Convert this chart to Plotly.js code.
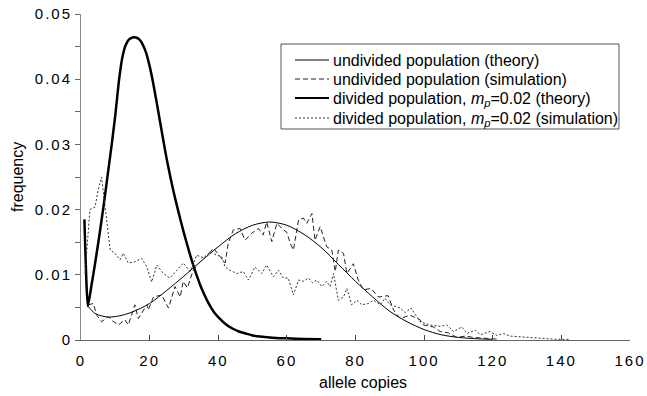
<!DOCTYPE html>
<html>
<head>
<meta charset="utf-8">
<script src="https://cdn.plot.ly/plotly-3.0.1.min.js"></script>
<style>
body{margin:0;padding:0;background:#fff;}
.xtick text,.ytick text{letter-spacing:2px;}
</style>
</head>
<body>
<div id="chart" style="width:647px;height:396px;"></div>
<script>
// undivided population (theory)
const undivTheoryX = [2,4,6,8,10,12,15,20,25,30,35,40,45,50,55,60,65,70,75,80,85,90,95,100,105,110,115,120];
const undivTheoryY = [0.0052,0.0041,0.0037,0.0035,0.0036,0.0038,0.0043,0.0056,0.0076,0.0098,0.0121,0.0143,0.0163,0.0176,0.0181,0.0176,0.0162,0.0142,0.0116,0.0090,0.0066,0.0044,0.0028,0.0016,0.0008,0.0004,0.0002,0.0001];

// undivided population (simulation)
const undivSimX = [2.1,3.6,4.6,6.0,8.0,9.0,10.9,12.8,13.8,15.7,16.7,19.2,19.6,21.1,23.5,25.5,27.4,28.9,29.8,31.0,32.7,34.7,36.6,38.6,40.5,42.0,42.9,44.4,46.4,47.8,49.8,51.7,53.1,54.1,55.6,57.1,59.0,60.0,61.0,61.9,63.4,64.8,65.8,67.3,68.2,69.7,71.6,73.1,74.1,75.0,76.5,77.5,79.4,80.8,82.3,84.5,86.7,89.5,91.1,93.0,95.9,98.8,99.8,102.7,104.7,107.0,109.5,112.0,114.4,117.0,119.2,122.0];
const undivSimY = [0.0054,0.0056,0.0038,0.0028,0.0036,0.0030,0.0023,0.0031,0.0023,0.0054,0.0033,0.0054,0.0046,0.0066,0.0069,0.0049,0.0082,0.0066,0.0090,0.0080,0.0107,0.0120,0.0128,0.0141,0.0128,0.0118,0.0148,0.0169,0.0171,0.0153,0.0164,0.0171,0.0161,0.0181,0.0151,0.0179,0.0169,0.0165,0.0148,0.0138,0.0184,0.0187,0.0179,0.0194,0.0153,0.0174,0.0143,0.0138,0.0105,0.0138,0.0133,0.0102,0.0117,0.0092,0.0077,0.0079,0.0066,0.0068,0.0046,0.0033,0.0038,0.0031,0.0023,0.0020,0.0013,0.0011,0.0004,0.0006,0.0004,0.0003,0.0002,0.0001];

// divided population, mp=0.02 (theory)
const divTheoryX = [1,2,3,4,5,6,7,8,9,10,11,12,13,14,15,16,17,18,19,20,21,22,23,24,25,26,27,28,29,30,31,32,33,34,35,36,37,38,39,40,42,44,46,48,50,55,60,65,70];
const divTheoryY = [0.0185,0.0052,0.0082,0.0114,0.0148,0.0184,0.0222,0.0262,0.0302,0.0345,0.0395,0.0432,0.0452,0.0461,0.0464,0.0464,0.0461,0.0453,0.0440,0.0420,0.0395,0.0366,0.0336,0.0306,0.0277,0.0251,0.0227,0.0205,0.0184,0.0164,0.0145,0.0127,0.0110,0.0095,0.0081,0.0069,0.0058,0.0049,0.0041,0.0035,0.0025,0.0018,0.0013,0.0010,0.0007,0.0004,0.00025,0.00015,0.0001];

// divided population, mp=0.02 (simulation)
const divSimX = [1.2,2.6,4.1,5.0,6.0,7.0,8.5,9.9,11.4,12.3,13.8,15.7,17.7,19.2,20.6,22.1,24.0,25.9,27.9,29.8,31.8,33.7,35.7,37.6,39.6,41.0,42.0,43.4,45.4,47.3,48.8,50.7,52.7,54.1,56.1,57.5,59.0,60.4,61.9,63.4,64.8,66.3,67.5,68.7,70.2,71.6,72.6,73.6,75.0,76.5,77.5,78.9,80.4,81.8,83.8,85.2,87.2,88.6,90.1,91.5,93.0,94.5,96.2,98.8,101.7,104.7,106.6,108.6,111.0,112.5,114.9,116.4,119.2,121.2,123.1,125.0,128.0,130.9,134.8,138.7,142.6];
const divSimY = [0.0102,0.0200,0.0204,0.0230,0.0250,0.0204,0.0138,0.0133,0.0123,0.0133,0.0118,0.0120,0.0125,0.0112,0.0089,0.0115,0.0102,0.0095,0.0107,0.0118,0.0105,0.0130,0.0126,0.0135,0.0130,0.0128,0.0112,0.0107,0.0102,0.0105,0.0092,0.0112,0.0102,0.0115,0.0097,0.0107,0.0095,0.0095,0.0069,0.0092,0.0090,0.0095,0.0088,0.0092,0.0082,0.0090,0.0082,0.0102,0.0061,0.0066,0.0079,0.0054,0.0061,0.0054,0.0056,0.0061,0.0054,0.0064,0.0054,0.0051,0.0049,0.0042,0.0049,0.0028,0.0023,0.0021,0.0023,0.0013,0.0020,0.0010,0.0015,0.0008,0.0013,0.0007,0.0010,0.0006,0.0005,0.0003,0.0002,0.0001,0.0001];

const seriesNames = [
  'undivided population (theory)',
  'undivided population (simulation)',
  'divided population, <i>m</i><sub><i>p</i></sub>=0.02 (theory)',
  'divided population, <i>m</i><sub><i>p</i></sub>=0.02 (simulation)'
];
const xTitle = 'allele copies';
const yTitle = 'frequency';

const lineStyles = [
  {color: '#000', width: 1, shape: 'spline', smoothing: 0.8},
  {color: '#222', width: 1, dash: '5px,3px'},
  {color: '#000', width: 2.5, shape: 'spline', smoothing: 0.5},
  {color: '#333', width: 1, dash: '2px,2px'}
];

const traces = [
  {x: undivTheoryX, y: undivTheoryY, name: seriesNames[0], mode: 'lines', line: lineStyles[0]},
  {x: undivSimX, y: undivSimY, name: seriesNames[1], mode: 'lines', line: lineStyles[1]},
  {x: divTheoryX, y: divTheoryY, name: seriesNames[2], mode: 'lines', line: lineStyles[2]},
  {x: divSimX, y: divSimY, name: seriesNames[3], mode: 'lines', line: lineStyles[3]}
];

const fontFam = '"Liberation Sans", Arial, Helvetica, sans-serif';

// pixel -> paper helpers (plot area 81..630 x 14..340)
const L = 81, R = 630, T = 14, B = 340;
const px = v => (v - L) / (R - L);
const py = v => (B - v) / (B - T);

// legend drawn as paper-referenced shapes + annotations
const legendRows = [60, 79, 98, 118];
const shapes = [
  {type: 'rect', xref: 'paper', yref: 'paper', x0: px(281), x1: px(619), y0: py(129), y1: py(44),
   line: {color: '#555', width: 1}, fillcolor: 'rgba(255,255,255,1)', layer: 'above'}
];
const annotations = [
  {text: xTitle, xref: 'paper', yref: 'paper', x: px(363), y: py(383),
   xanchor: 'center', yanchor: 'middle', showarrow: false,
   font: {family: fontFam, size: 16, color: '#000'}},
  {text: yTitle, xref: 'paper', yref: 'paper', x: px(17), y: py(177),
   xanchor: 'center', yanchor: 'middle', showarrow: false, textangle: -90,
   font: {family: fontFam, size: 16, color: '#000'}}
];
legendRows.forEach(function(r, i){
  const st = lineStyles[i];
  shapes.push({type: 'line', xref: 'paper', yref: 'paper', x0: px(295), x1: px(329), y0: py(r), y1: py(r),
    line: {color: st.color, width: i === 2 ? 2 : 1, dash: st.dash || 'solid'}, layer: 'above'});
  annotations.push({text: seriesNames[i], xref: 'paper', yref: 'paper', x: px(331), y: py(r - 10.5),
    xanchor: 'left', yanchor: 'top', align: 'left', showarrow: false,
    font: {family: fontFam, size: 16, color: '#000'}});
});

const layout = {
  width: 647, height: 396,
  margin: {l: L, r: 647 - R, t: T, b: 396 - B},
  paper_bgcolor: '#fff', plot_bgcolor: '#fff',
  font: {family: fontFam, size: 15, color: '#000'},
  showlegend: false,
  xaxis: {
    range: [0, 160], dtick: 20, tick0: 0,
    showgrid: false, zeroline: false,
    showline: true, linecolor: '#666', linewidth: 1,
    ticks: 'inside', ticklen: 5, tickcolor: '#444', tickwidth: 1,
    ticklabelstandoff: 7,
    tickfont: {family: fontFam, size: 15, color: '#000'}
  },
  yaxis: {
    range: [0, 0.05], dtick: 0.01, tick0: 0,
    tickformat: '.2f',
    showgrid: false, zeroline: false,
    showline: true, linecolor: '#888', linewidth: 1,
    ticks: 'outside', ticklen: 5, tickcolor: '#666', tickwidth: 1,
    minor: {dtick: 0.005, ticks: 'outside', ticklen: 5, tickcolor: '#666', showgrid: false},
    tickfont: {family: fontFam, size: 15, color: '#000'}
  },
  shapes: shapes,
  annotations: annotations
};

Plotly.newPlot('chart', traces, layout, {staticPlot: true, displayModeBar: false}).then(function(){
  document.querySelectorAll('.ytick text').forEach(function(t){
    if (t.textContent === '0.00') t.textContent = '0';
  });
});
</script>
</body>
</html>
